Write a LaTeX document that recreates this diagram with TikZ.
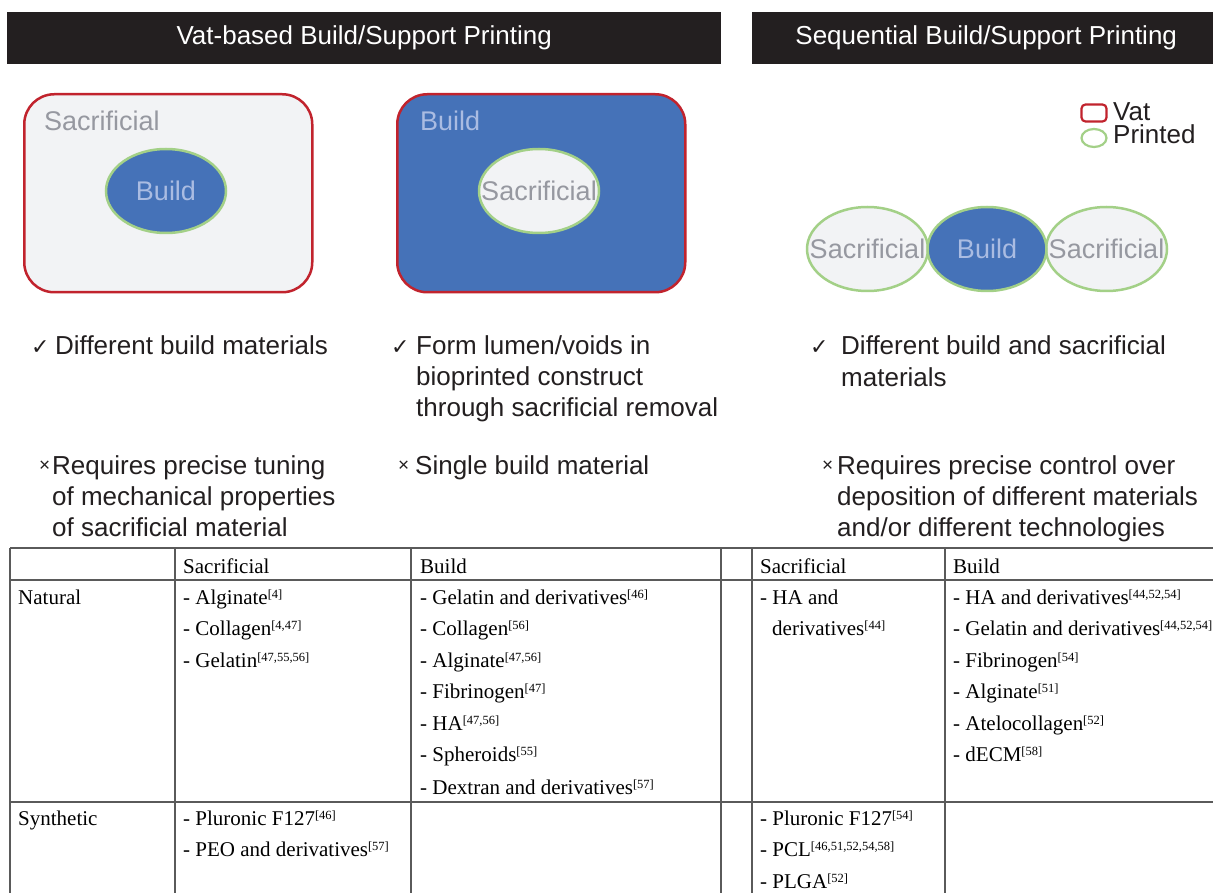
\documentclass[tikz,border=0pt]{standalone}
\usepackage{fontspec}
\setmainfont{Liberation Serif}
\newfontfamily\arialf{Liberation Sans}
\newfontfamily\dejavuf{DejaVu Sans}
\usetikzlibrary{shapes.geometric}
\definecolor{barc}{RGB}{35,31,32}
\definecolor{blueF}{RGB}{69,114,184}
\definecolor{grayF}{RGB}{242,243,245}
\definecolor{redc}{RGB}{193,35,45}
\definecolor{greenc}{RGB}{163,208,135}
\definecolor{grayT}{RGB}{150,152,160}
\definecolor{lightT}{RGB}{170,188,226}
\definecolor{textc}{RGB}{35,31,32}
\definecolor{tablec}{RGB}{90,90,90}
\newcommand\refsup[1]{\raisebox{6pt}{\fontsize{12.5}{12.5}\selectfont[#1]}}
\newcommand\zb[1]{\makebox[0pt]{#1}}
\begin{document}
\begin{tikzpicture}[x=1pt,y=-1pt,
  titlebar/.style={fill=barc, text=white, font=\arialf\fontsize{26}{26}\selectfont, inner sep=0, anchor=north west},
  vatbox/.style={draw=redc, line width=2.5pt, rounded corners=30pt, inner sep=0, anchor=north west},
  blob/.style={ellipse, draw=greenc, line width=2.5pt, inner sep=0, minimum width=120pt, minimum height=84pt, font=\arialf\fontsize{27}{27}\selectfont},
  sac/.style={fill=grayF, text=grayT},
  bld/.style={fill=blueF, text=lightT},
  inlbl/.style={anchor=base west, inner sep=0, font=\arialf\fontsize{27}{27}\selectfont},
  body/.style={anchor=base west, inner sep=0, font=\arialf\fontsize{26}{26}\selectfont, text=textc},
  chk/.style={anchor=base west, inner sep=0, font=\dejavuf\fontsize{22}{22}\selectfont, text=textc},
  crs/.style={anchor=base west, inner sep=0, font=\arialf\fontsize{19}{19}\selectfont, text=textc},
  cell/.style={anchor=base west, inner sep=0, font=\fontsize{21}{24}\selectfont, text=black},
  tline/.style={draw=tablec, line width=1.5pt}
]
\useasboundingbox (0,0) rectangle (1213,893);
\fill[white] (0,0) rectangle (1213,893);

% title bars
\node[titlebar, minimum width=714, minimum height=52] (bar1) at (7,12) {Vat-based Build/Support Printing};
\node[titlebar, minimum width=470, minimum height=52] (bar2) at (752,12) {\hspace*{-2pt}Sequential Build/Support Printing};

% vat boxes
\node[vatbox, sac, minimum width=288, minimum height=198] (v1) at (23,93) {};
\node[inlbl, text=grayT] (v1l) at (44,131) {Sacrificial};
\node[blob, bld] (b1) at (166,191) {\zb{Build}};

\node[vatbox, bld, minimum width=288, minimum height=198] (v2) at (396,93) {};
\node[inlbl, text=lightT] (v2l) at (420,131) {Build};
\node[blob, sac] (s2) at (539,191) {\zb{Sacrificial}};

% sequential
\node[blob, sac, minimum width=121pt] (s3a) at (867.5,249) {\zb{Sacrificial}};
\node[blob, sac, minimum width=121pt] (s3b) at (1106.5,249) {\zb{Sacrificial}};
\node[blob, bld, minimum width=119pt] (b3) at (987,249) {\zb{Build}};

% legend
\node[draw=redc, line width=2.2pt, rounded corners=4pt, minimum width=25, minimum height=17, inner sep=0] (lv) at (1094,113) {};
\node[ellipse, draw=greenc, line width=2.2pt, minimum width=25, minimum height=18, inner sep=0] (lp) at (1094,138) {};
\node[anchor=north west, inner sep=0, align=left, font=\arialf\fontsize{26}{23}\selectfont, text=textc] (lvt) at (1113,102.4) {Vat\\Printed};

% pros
\node[chk] (c1) at (31,354) {✓};
\node[body] (p1) at (55,354) {Different build materials};
\node[chk] (c2) at (391,354) {✓};
\node[body] (p2a) at (416,354) {Form lumen/voids in};
\node[body] (p2b) at (416,385) {bioprinted construct};
\node[body] (p2c) at (416,416) {through sacrificial removal};
\node[chk] (c3) at (810,354) {✓};
\node[body] (p3a) at (841,354) {Different build and sacrificial};
\node[body] (p3b) at (841,386) {materials};

% cons
\node[crs] (x1) at (39,471) {×};
\node[body] (n1a) at (52,474) {Requires precise tuning};
\node[body] (n1b) at (52,505) {of mechanical properties};
\node[body] (n1c) at (52,536) {of sacrificial material};
\node[crs] (x2) at (398,471) {×};
\node[body] (n2) at (415,474) {Single build material};
\node[crs] (x3) at (822,471) {×};
\node[body] (n3a) at (837,474) {Requires precise control over};
\node[body] (n3b) at (837,505) {deposition of different materials};
\node[body] (n3c) at (837,536) {and/or different technologies};

% table grid
\foreach \yy in {548,580,802} \draw[tline] (10,\yy) -- (1215,\yy);
\foreach \xx in {10,175,411,721,752,945} \draw[tline] (\xx,548) -- (\xx,895);

% header
\node[cell] (h1) at (183,573) {Sacrificial};
\node[cell] (h2) at (420,573) {Build};
\node[cell] (h3) at (760,573) {Sacrificial};
\node[cell] (h4) at (953,573) {Build};

% natural row
\node[cell] (r1) at (18,604) {Natural};
\node[cell] (a1) at (183,604) {- Alginate\refsup{4}};
\node[cell] (a2) at (183,635.5) {- Collagen\refsup{4,47}};
\node[cell] (a3) at (183,667) {- Gelatin\refsup{47,55,56}};

\node[cell] (b1t) at (420,604) {- Gelatin and derivatives\refsup{46}};
\node[cell] (b2t) at (420,635.5) {- Collagen\refsup{56}};
\node[cell] (b3t) at (420,667) {- Alginate\refsup{47,56}};
\node[cell] (b4t) at (420,698.5) {- Fibrinogen\refsup{47}};
\node[cell] (b5t) at (420,730) {- HA\refsup{47,56}};
\node[cell] (b6t) at (420,761.5) {- Spheroids\refsup{55}};
\node[cell] (b7t) at (420,794) {- Dextran and derivatives\refsup{57}};

\node[cell] (c1t) at (760,604) {- HA and};
\node[cell] (c2t) at (772,635.5) {derivatives\refsup{44}};

\node[cell] (d1t) at (953,604) {- HA and derivatives\refsup{44,52,54}};
\node[cell] (d2t) at (953,635.5) {- Gelatin and derivatives\refsup{44,52,54}};
\node[cell] (d3t) at (953,667) {- Fibrinogen\refsup{54}};
\node[cell] (d4t) at (953,698.5) {- Alginate\refsup{51}};
\node[cell] (d5t) at (953,730) {- Atelocollagen\refsup{52}};
\node[cell] (d6t) at (953,761.5) {- dECM\refsup{58}};

% synthetic row
\node[cell] (r2) at (18,825) {Synthetic};
\node[cell] (e1t) at (183,825) {- Pluronic F127\refsup{46}};
\node[cell] (e2t) at (183,856.5) {- PEO and derivatives\refsup{57}};
\node[cell] (f1t) at (760,825) {- Pluronic F127\refsup{54}};
\node[cell] (f2t) at (760,856.5) {- PCL\refsup{46,51,52,54,58}};
\node[cell] (f3t) at (760,888) {- PLGA\refsup{52}};
\end{tikzpicture}
\end{document}
